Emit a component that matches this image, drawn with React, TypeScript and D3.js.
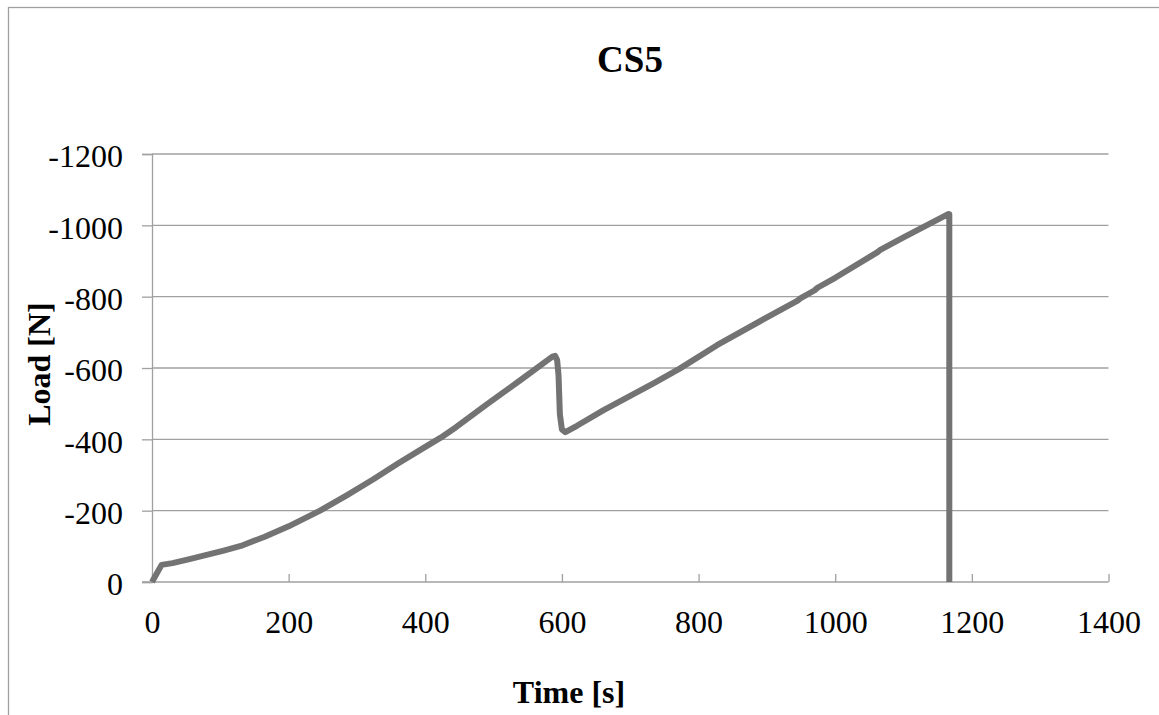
import React, { useEffect, useRef } from 'react';
import * as d3 from 'd3';

// CS5 load vs time
const timeValues: number[] = [
    0, 14, 30, 55, 80, 105, 130, 165, 200, 246, 285, 324, 360, 400, 422, 445, 490, 540, 586, 590,
    593, 595, 597, 600, 605, 622, 661, 734, 773, 827, 900, 945, 949, 970, 974, 1000, 1062, 1066,
    1100, 1166, 1167, 1167
];
const loadValues: number[] = [
    0, -48, -53, -64, -76, -88, -101, -127, -156, -200, -243, -288, -332, -379, -404, -434, -498, -567, -632, -634,
    -622, -580, -470, -428, -420, -438, -482, -557, -599, -664, -742, -789, -795, -818, -825, -853, -925, -931,
    -966, -1032, -1031, 0
];

const xTicks: number[] = [0, 200, 400, 600, 800, 1000, 1200, 1400];
const yTicks: number[] = [0, -200, -400, -600, -800, -1000, -1200];

const chartTitle = 'CS5';
const xTitle = 'Time [s]';
const yTitle = 'Load [N]';

const W = 1159;
const H = 715;

const App: React.FC = () => {
    const svgRef = useRef<SVGSVGElement>(null);

    useEffect(() => {
        const svg = d3.select(svgRef.current);
        svg.selectAll('*').remove();

        const font = '"Liberation Serif", "Times New Roman", serif';
        const gridColor = '#a0a0a0';

        const plot = { left: 152, right: 1108.5, top: 154, bottom: 582 };

        const x = d3.scaleLinear().domain([0, 1400]).range([plot.left, plot.right]);
        const y = d3.scaleLinear().domain([0, -1200]).range([plot.bottom, plot.top]);

        // chart area border (runs off the right and bottom of the page)
        svg.append('rect')
            .attr('x', 8.5)
            .attr('y', 7.5)
            .attr('width', W + 20)
            .attr('height', H + 20)
            .attr('fill', 'none')
            .attr('stroke', gridColor)
            .attr('stroke-width', 1.3);

        // horizontal grid lines
        svg.append('g')
            .selectAll('line')
            .data(yTicks.filter(d => d !== 0))
            .enter()
            .append('line')
            .attr('x1', plot.left)
            .attr('x2', plot.right)
            .attr('y1', d => y(d))
            .attr('y2', d => y(d))
            .attr('stroke', gridColor)
            .attr('stroke-width', 1.3);

        // Y axis
        const yAxis = svg.append('g')
            .attr('transform', `translate(${plot.left},0)`)
            .call(d3.axisLeft(y).tickValues(yTicks).tickSize(10).tickPadding(19).tickFormat(d => String(d)));
        yAxis.select('.domain').attr('stroke', gridColor).attr('stroke-width', 1.3);
        yAxis.selectAll('.tick line').attr('stroke', gridColor).attr('stroke-width', 1.3);
        yAxis.selectAll('text')
            .attr('dy', '0.4em')
            .style('font-family', font)
            .style('font-size', '32px')
            .style('fill', '#000');

        // X axis, ticks pointing into the plot
        const xAxis = svg.append('g')
            .attr('transform', `translate(0,${plot.bottom})`)
            .call(d3.axisBottom(x).tickValues(xTicks).tickSize(0).tickFormat(d => String(d)));
        xAxis.select('.domain').remove();
        xAxis.selectAll('.tick line')
            .attr('y2', -8)
            .attr('stroke', gridColor)
            .attr('stroke-width', 1.3);
        xAxis.append('line')
            .attr('x1', plot.left - 10)
            .attr('x2', plot.right)
            .attr('stroke', gridColor)
            .attr('stroke-width', 1.3);
        xAxis.selectAll('text')
            .attr('y', 51)
            .attr('dy', 0)
            .style('font-family', font)
            .style('font-size', '32px')
            .style('fill', '#000');

        // series
        const pts: [number, number][] = timeValues.map((t, i) => [t, loadValues[i]]);
        const line = d3.line<[number, number]>()
            .x(d => x(d[0]))
            .y(d => y(d[1]));

        svg.append('path')
            .datum(pts)
            .attr('d', line as any)
            .attr('fill', 'none')
            .attr('stroke', '#737373')
            .attr('stroke-width', 6)
            .attr('stroke-linejoin', 'round');

        // titles
        svg.append('text')
            .attr('x', 630)
            .attr('y', 72)
            .attr('text-anchor', 'middle')
            .style('font-family', font)
            .style('font-size', '37px')
            .style('font-weight', 'bold')
            .text(chartTitle);

        svg.append('text')
            .attr('x', 569)
            .attr('y', 703)
            .attr('text-anchor', 'middle')
            .style('font-family', font)
            .style('font-size', '32px')
            .style('font-weight', 'bold')
            .text(xTitle);

        svg.append('text')
            .attr('transform', `translate(50,364) rotate(-90)`)
            .attr('text-anchor', 'middle')
            .style('font-family', font)
            .style('font-size', '32px')
            .style('font-weight', 'bold')
            .text(yTitle);
    }, []);

    return (
        <svg
            ref={svgRef}
            width={W}
            height={H}
            style={{ position: 'absolute', left: 0, top: 0, display: 'block', background: '#fff' }}
        />
    );
};

export default App;
